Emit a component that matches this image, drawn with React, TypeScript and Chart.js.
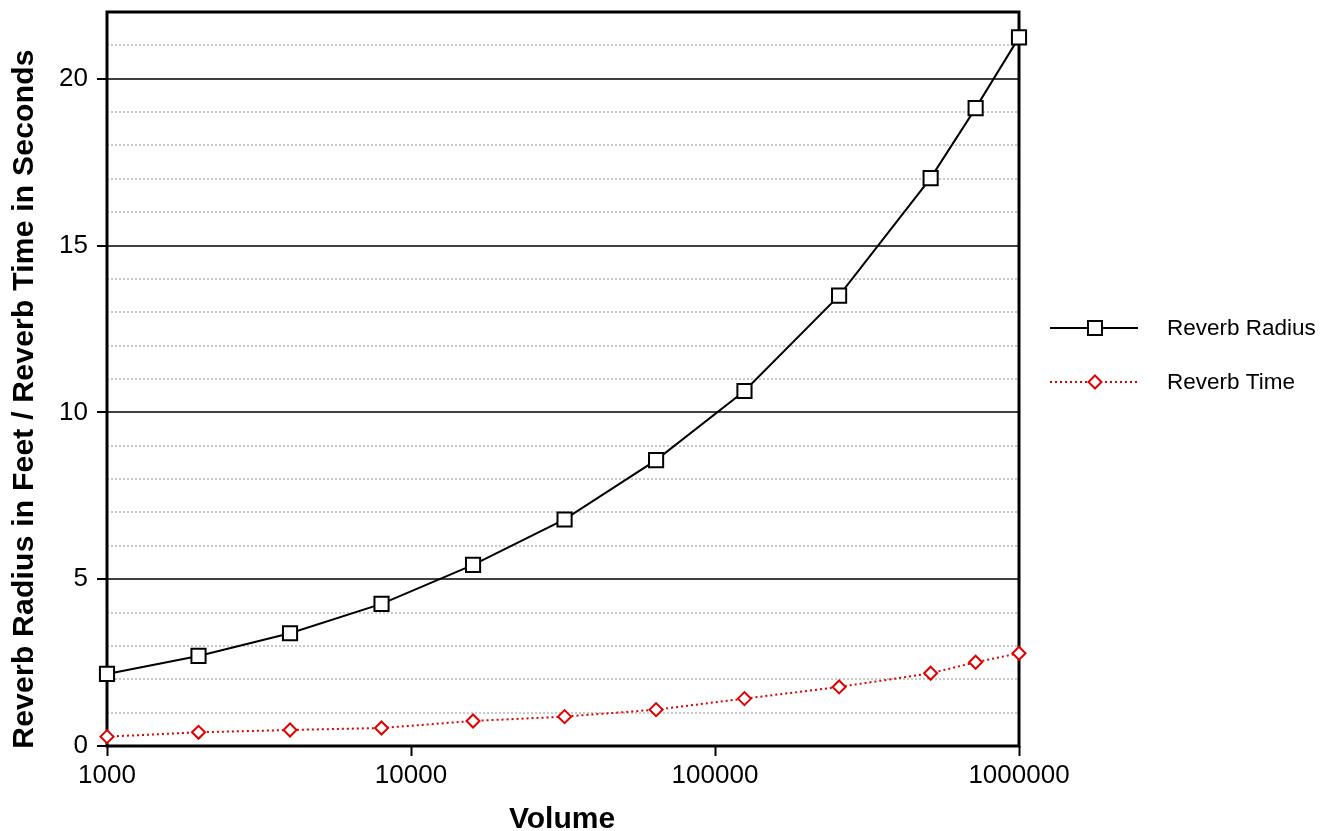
import React, { useEffect, useRef } from "react";
import { Chart, registerables } from "chart.js";

Chart.register(...registerables);

const volumes = [1000, 2000, 4000, 8000, 16000, 32000, 64000, 125000, 256000, 512000, 720000, 1000000];
const reverbRadius = [2.16, 2.70, 3.38, 4.26, 5.43, 6.79, 8.57, 10.64, 13.50, 17.02, 19.12, 21.24];
const reverbTime = [0.28, 0.41, 0.48, 0.54, 0.75, 0.88, 1.09, 1.42, 1.77, 2.18, 2.51, 2.78];

const xTickValues = [1000, 10000, 100000, 1000000];
const yMajorTicks = [0, 5, 10, 15, 20];
const yMinorTicks = [1, 2, 3, 4, 6, 7, 8, 9, 11, 12, 13, 14, 16, 17, 18, 19, 21];

const seriesNames = ["Reverb Radius", "Reverb Time"];
const xTitle = "Volume";
const yTitle = "Reverb Radius in Feet / Reverb Time in Seconds";

const FONT = '"Liberation Sans", Arial, Helvetica, sans-serif';
const RED = "#e00000";

const framePlugin = {
  id: "frameAndText",
  beforeDatasetsDraw(chart: any) {
    const { ctx, chartArea } = chart;
    ctx.save();
    ctx.strokeStyle = "#000";
    ctx.lineWidth = 3;
    ctx.strokeRect(chartArea.left, chartArea.top, chartArea.right - chartArea.left, chartArea.bottom - chartArea.top);
    ctx.restore();
  },
  afterDraw(chart: any) {
    const { ctx, chartArea } = chart;
    ctx.save();
    ctx.fillStyle = "#000";
    // x title
    ctx.font = `bold 30px ${FONT}`;
    ctx.textAlign = "center";
    ctx.textBaseline = "alphabetic";
    ctx.fillText(xTitle, (chartArea.left + chartArea.right) / 2 - 1, 828);
    // y title
    ctx.save();
    ctx.translate(33, 399);
    ctx.rotate(-Math.PI / 2);
    try {
      (ctx as any).letterSpacing = "0.25px";
    } catch (e) {}
    ctx.fillText(yTitle, 0, 0);
    ctx.restore();

    // legend
    const lx0 = 1050, lx1 = 1138, mx = 1095, tx = 1167;
    const y1 = 328, y2 = 382;
    ctx.lineWidth = 2;
    ctx.strokeStyle = "#000";
    ctx.beginPath();
    ctx.moveTo(lx0, y1);
    ctx.lineTo(lx1, y1);
    ctx.stroke();
    ctx.fillStyle = "#fff";
    ctx.fillRect(mx - 7, y1 - 7, 14, 14);
    ctx.strokeRect(mx - 7, y1 - 7, 14, 14);

    ctx.strokeStyle = RED;
    ctx.setLineDash([2, 3]);
    ctx.beginPath();
    ctx.moveTo(lx0, y2);
    ctx.lineTo(lx1, y2);
    ctx.stroke();
    ctx.setLineDash([]);
    ctx.beginPath();
    ctx.moveTo(mx, y2 - 6.5);
    ctx.lineTo(mx + 6.5, y2);
    ctx.lineTo(mx, y2 + 6.5);
    ctx.lineTo(mx - 6.5, y2);
    ctx.closePath();
    ctx.fillStyle = "#fff";
    ctx.fill();
    ctx.stroke();

    ctx.fillStyle = "#000";
    ctx.font = `22.5px ${FONT}`;
    ctx.textAlign = "left";
    ctx.textBaseline = "middle";
    ctx.fillText(seriesNames[0], tx, y1 + 1);
    ctx.fillText(seriesNames[1], tx, y2 + 1);
    ctx.restore();
  },
};

export default function App() {
  const canvasRef = useRef<HTMLCanvasElement | null>(null);

  useEffect(() => {
    if (!canvasRef.current) return;
    const chart = new Chart(canvasRef.current, {
      type: "line",
      data: {
        datasets: [
          {
            label: seriesNames[0],
            data: volumes.map((v, i) => ({ x: v, y: reverbRadius[i] })),
            borderColor: "#000",
            borderWidth: 2,
            pointStyle: "rect",
            pointRadius: 10,
            pointBorderWidth: 2,
            pointBackgroundColor: "#fff",
            pointBorderColor: "#000",
            tension: 0,
            clip: false as any,
          },
          {
            label: seriesNames[1],
            data: volumes.map((v, i) => ({ x: v, y: reverbTime[i] })),
            borderColor: RED,
            borderWidth: 2,
            borderDash: [2, 3],
            pointStyle: "rectRot",
            pointRadius: 6.5,
            pointBorderWidth: 2,
            pointBackgroundColor: "#fff",
            pointBorderColor: RED,
            tension: 0,
            clip: false as any,
          },
        ],
      },
      options: {
        animation: false,
        responsive: false,
        devicePixelRatio: 1,
        layout: { padding: { left: 0, top: 11, right: 309, bottom: 0 } },
        plugins: {
          legend: { display: false },
          tooltip: { enabled: false },
          title: { display: false },
        },
        scales: {
          x: {
            type: "logarithmic",
            min: 1000,
            max: 1000000,
            afterBuildTicks: (s: any) => {
              s.ticks = xTickValues.map((v) => ({ value: v }));
            },
            afterFit: (s: any) => {
              s.height = 85;
              s.paddingLeft = 0;
              s.paddingRight = 0;
            },
            ticks: {
              autoSkip: false,
              maxRotation: 0,
              color: "#000",
              padding: 4,
              font: { family: FONT, size: 26 },
              callback: (v: any) => String(v),
            },
            grid: { drawOnChartArea: false, tickColor: "#000", tickLength: 10, tickWidth: 2 },
            border: { display: false },
          },
          y: {
            type: "linear",
            position: "left",
            min: 0,
            max: 22,
            afterBuildTicks: (s: any) => {
              s.ticks = yMajorTicks.map((v) => ({ value: v }));
            },
            afterFit: (s: any) => {
              s.width = 107;
              s.paddingTop = 0;
              s.paddingBottom = 0;
            },
            ticks: { color: "#000", padding: 9, font: { family: FONT, size: 26 } },
            grid: { color: "#404040", lineWidth: 2, tickColor: "#000", tickLength: 10, tickWidth: 2 },
            border: { display: false },
          },
          yMinor: {
            type: "linear",
            position: "left",
            min: 0,
            max: 22,
            afterBuildTicks: (s: any) => {
              s.ticks = yMinorTicks.map((v) => ({ value: v }));
            },
            afterFit: (s: any) => {
              s.width = 0;
              s.paddingTop = 0;
              s.paddingBottom = 0;
            },
            ticks: { display: false },
            grid: { color: "#c8c8c8", lineWidth: 2, drawTicks: false, tickLength: 0 },
            border: { display: false, dash: [2, 2] },
          },
        },
      },
      plugins: [framePlugin],
    } as any);
    return () => chart.destroy();
  }, []);

  return (
    <div style={{ position: "absolute", left: 0, top: 0, width: 1328, height: 831, background: "#fff" }}>
      <canvas ref={canvasRef} width={1328} height={831} />
    </div>
  );
}
